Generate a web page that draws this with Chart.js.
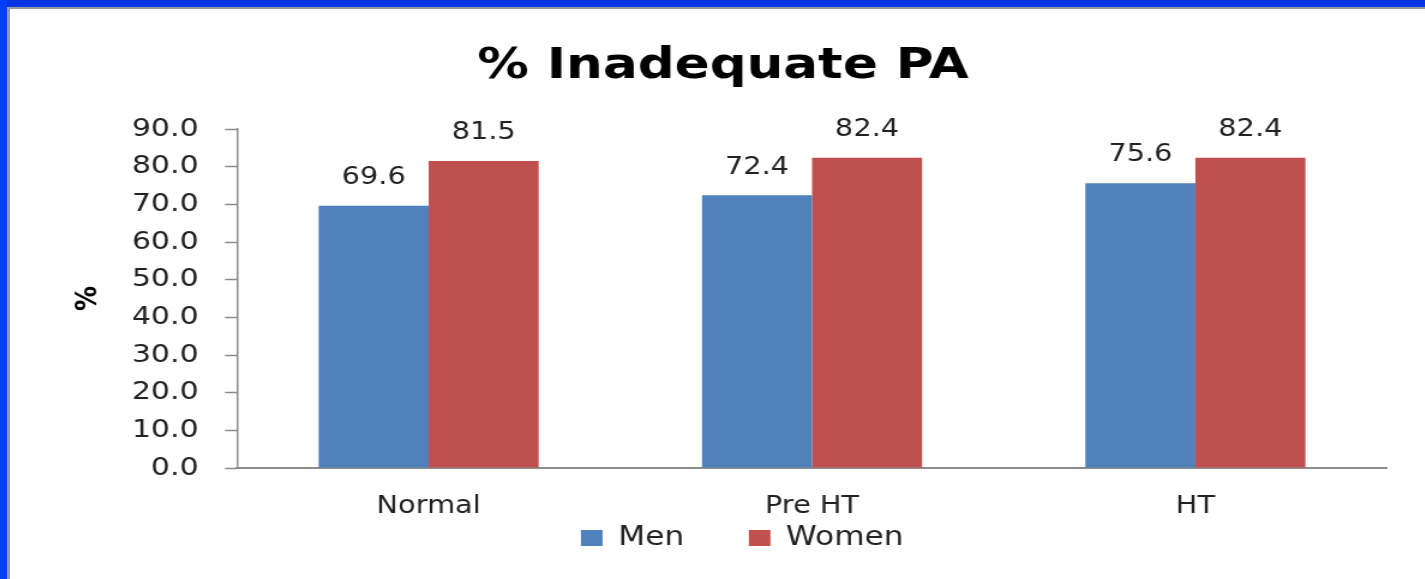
<!DOCTYPE html>
<html>
<head>
<meta charset="utf-8">
<script src="https://cdn.jsdelivr.net/npm/chart.js@4.4.1/dist/chart.umd.min.js"></script>
<style>
  html, body { margin: 0; padding: 0; background: #fff; width: 1425px; height: 579px; overflow: hidden; }
  .frame { position: absolute; }
  #blueTop { left: 0; top: 0; width: 1425px; height: 7px; background: #0036e6; }
  #blueLeft { left: 0; top: 0; width: 7px; height: 579px; background: #0040fa; }
  #greyTop { left: 7px; top: 7px; width: 1418px; height: 2px; background: #9a9a9a; }
  #greyLeft { left: 7px; top: 7px; width: 3px; height: 572px; background: #9a9a9a; }
  /* the slide was stretched sideways, so the chart is too */
  #wrap { position: absolute; left: 11px; top: 9px; width: 1178.33px; height: 570px; transform: scaleX(1.2); transform-origin: 0 0; }
</style>
</head>
<body>
<div class="frame" id="blueTop"></div>
<div class="frame" id="blueLeft"></div>
<div class="frame" id="greyTop"></div>
<div class="frame" id="greyLeft"></div>
<div id="wrap"><canvas id="paChart"></canvas></div>
<script>
const categories = ["Normal", "Pre HT", "HT"];
const menValues = [69.6, 72.4, 75.6];
const womenValues = [81.5, 82.4, 82.4];
const yTickLabels = ["0.0", "10.0", "20.0", "30.0", "40.0", "50.0", "60.0", "70.0", "80.0", "90.0"];

const fontFamily = "'DejaVu Sans', sans-serif";
const axisGrey = "#8c8c8c";
const textColor = "#222";

// value labels above each bar
const barValueLabels = {
  id: "barValueLabels",
  afterDatasetsDraw(chart) {
    const ctx = chart.ctx;
    ctx.save();
    ctx.font = "24px " + fontFamily;
    ctx.fillStyle = textColor;
    ctx.textAlign = "center";
    ctx.textBaseline = "middle";
    chart.data.datasets.forEach((ds, i) => {
      chart.getDatasetMeta(i).data.forEach((bar, j) => {
        ctx.fillText(ds.data[j].toFixed(1), bar.x, bar.y - 28);
      });
    });
    ctx.restore();
  }
};

// legend sits a bit right of centre, tucked under the axis labels
const placeLegend = {
  id: "placeLegend",
  afterLayout(chart) {
    const lg = chart.legend;
    lg.left += 16;
    lg.right += 16;
    lg.top = 462;
    lg.bottom = 552;
  }
};

const ctx = document.getElementById("paChart").getContext("2d");

new Chart(ctx, {
  type: "bar",
  data: {
    labels: categories,
    datasets: [
      { label: "Men", data: menValues, backgroundColor: "#4F81BD" },
      { label: "Women", data: womenValues, backgroundColor: "#C0504D" }
    ]
  },
  plugins: [barValueLabels, placeLegend],
  options: {
    responsive: true,
    maintainAspectRatio: false,
    animation: false,
    datasets: { bar: { categoryPercentage: 0.574, barPercentage: 1 } },
    layout: { padding: { left: 40, right: 31.6, top: 0, bottom: 41 } },
    plugins: {
      title: {
        display: true,
        text: "% Inadequate PA",
        color: "#000",
        font: { family: fontFamily, size: 43, weight: "bold" },
        padding: { top: 32, bottom: 36.4 }
      },
      legend: {
        position: "bottom",
        maxHeight: 10,
        labels: {
          boxWidth: 18,
          boxHeight: 16,
          padding: 54,
          color: textColor,
          font: { family: fontFamily, size: 26 }
        }
      },
      tooltip: { enabled: false }
    },
    scales: {
      x: {
        grid: { drawOnChartArea: false, drawTicks: false },
        border: { color: axisGrey, width: 2 },
        ticks: { padding: 24, color: textColor, font: { family: fontFamily, size: 24 } },
        afterFit: (scale) => { scale.height = 60; }
      },
      y: {
        min: 0,
        max: 90,
        ticks: {
          stepSize: 10,
          autoSkip: false,
          padding: 22,
          color: textColor,
          font: { family: fontFamily, size: 25 },
          callback: (value, index) => yTickLabels[index]
        },
        grid: { drawOnChartArea: false, tickLength: 10, tickColor: axisGrey, tickWidth: 1.5 },
        border: { color: axisGrey, width: 1.5 },
        title: {
          display: true,
          text: "%",
          color: "#000",
          font: { family: fontFamily, size: 25, weight: "bold" },
          padding: { top: 9, bottom: 0 }
        },
        afterFit: (scale) => { scale.width = 148.3; }
      }
    }
  }
});
</script>
</body>
</html>
